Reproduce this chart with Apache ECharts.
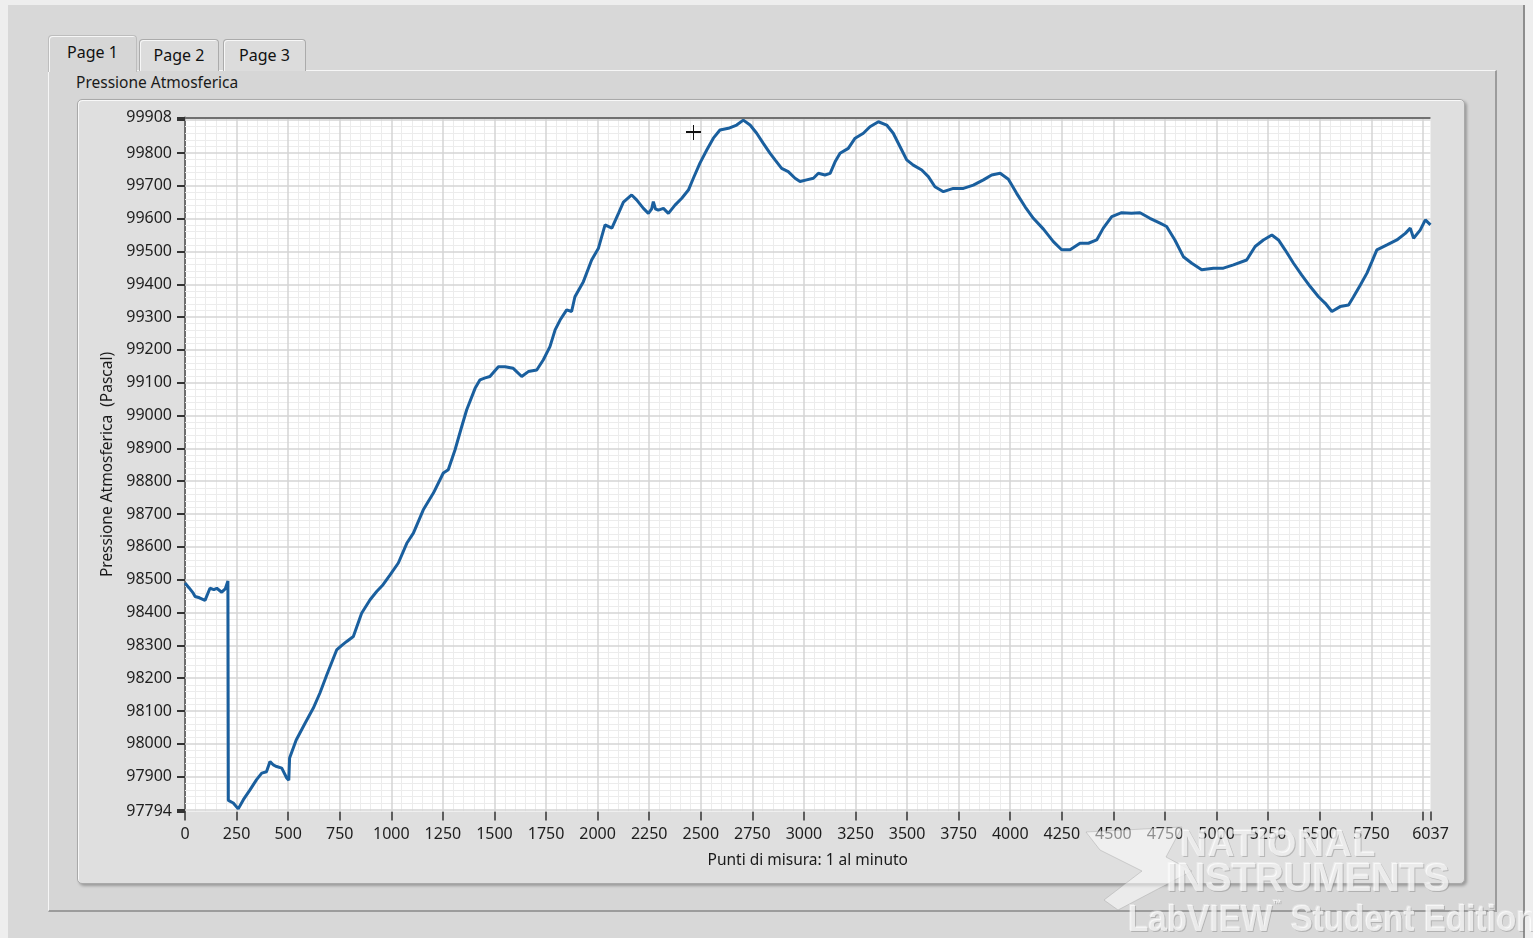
<!DOCTYPE html>
<html>
<head>
<meta charset="utf-8">
<title>Pressione Atmosferica</title>
<script src="https://cdn.jsdelivr.net/npm/echarts@6/dist/echarts.min.js"></script>
<style>
  html, body { margin: 0; padding: 0; }
  body {
    width: 1533px; height: 938px; overflow: hidden; position: relative;
    background: #eeeeee; font-family: "Noto Sans", "Open Sans", sans-serif; color: #111;
  }
  .abs { position: absolute; }
  #panel { left: 8px; top: 5px; width: 1515px; height: 933px; background: #d8d8d8;
           border-right: 2px solid #8e8e8e; }
  #tabBody { left: 48px; top: 70px; width: 1446px; height: 839px; background: #d6d6d6;
             border-top: 1px solid #f6f6f6; border-left: 1px solid #f6f6f6;
             border-right: 2px solid #9c9c9c; border-bottom: 2px solid #9c9c9c; }
  .tab { background: #dcdcdc; border: 1px solid #ababab; border-bottom: none;
         border-radius: 4px 4px 0 0; box-shadow: inset 1px 1px 0 #f7f7f7;
         font-size: 16px; text-align: center; box-sizing: border-box; }
  #tab1 { left: 48px; top: 35px; width: 89px; height: 37px; background: #d6d6d6; line-height: 32px; z-index: 2;
          border-color: #bdbdbd; }
  #tab2 { left: 139px; top: 39px; width: 80px; height: 32px; line-height: 30px; }
  #tab3 { left: 223px; top: 39px; width: 83px; height: 32px; line-height: 30px; }
  #graphLabel { left: 76px; top: 71px; font-size: 15.5px; line-height: 22px; color: #1a1a1a; }
  #graphFrame { left: 77px; top: 99px; width: 1386px; height: 783px; background: #dfdfdf;
                border: 1px solid #a9a9a9; border-radius: 5px;
                box-shadow: inset 1px 1px 0 #f8f8f8, 2px 2px 3px rgba(0,0,0,0.28); }
  #chart { left: 0; top: 0; width: 1533px; height: 938px; z-index: 3; }
  .cross { background: #111; z-index: 4; }
  #watermark { left: 0; top: 0; width: 1533px; height: 938px; z-index: 5; pointer-events: none; overflow: hidden; }
  .wm { position: absolute; font-family: "Liberation Sans", Arial, sans-serif; font-weight: bold;
        color: rgba(255,255,255,0.7); white-space: nowrap; transform-origin: 0 0;
        text-shadow: 1px 1px 0 rgba(110,110,110,0.35), -1px -1px 0 rgba(255,255,255,0.35); }
</style>
</head>
<body>
<div id="panel" class="abs"></div>
<div id="tabBody" class="abs"></div>
<div id="tab1" class="abs tab">Page 1</div>
<div id="tab2" class="abs tab">Page 2</div>
<div id="tab3" class="abs tab">Page 3</div>
<div id="graphLabel" class="abs">Pressione Atmosferica</div>
<div id="graphFrame" class="abs"></div>
<div id="chart" class="abs"></div>
<div class="abs cross" style="left:686px; top:131px; width:15px; height:1.5px;"></div>
<div class="abs cross" style="left:692.5px; top:125px; width:1.5px; height:15px;"></div>
<div id="watermark" class="abs">
  <svg width="1533" height="938" style="position:absolute;left:0;top:0">
    <polygon points="1086,832 1182,827 1166,857 1192,871 1118,910 1104,900 1142,871 1100,850"
             fill="rgba(255,255,255,0.5)" stroke="rgba(150,150,150,0.35)" stroke-width="1"/>
  </svg>
  <div class="wm" style="left:1180px; top:823px; font-size:37px; letter-spacing:1px;">NATIONAL</div>
  <div class="wm" style="left:1166px; top:855px; font-size:40px; letter-spacing:-0.5px;">INSTRUMENTS</div>
  <div class="wm" style="left:1128px; top:898px; font-size:37px; transform: scaleX(0.9);">LabVIEW<span style="font-size:10px;vertical-align:top;">™</span> Student Edition</div>
</div>
<script>
// Minute-by-minute atmospheric pressure readings (sample index, Pa)
const sampleIndex = [
  0, 20, 40, 49, 70, 97, 121, 140, 154, 178, 195, 208, 210, 234, 258, 283, 315, 347, 372, 395,
  412, 430, 444, 469, 493, 503, 507, 539, 582, 622, 654, 687, 735, 760, 784, 816, 856, 897, 929, 960,
  994, 1034, 1075, 1107, 1155, 1204, 1252, 1276, 1309, 1341, 1365, 1406, 1430, 1455, 1478, 1519, 1551, 1591, 1632, 1664,
  1705, 1737, 1769, 1794, 1818, 1850, 1874, 1890, 1931, 1971, 2004, 2036, 2069, 2101, 2125, 2165, 2189, 2222, 2246, 2262,
  2270, 2280, 2294, 2319, 2343, 2375, 2408, 2440, 2464, 2496, 2529, 2561, 2593, 2634, 2674, 2706, 2739, 2771, 2803, 2836,
  2860, 2892, 2924, 2957, 2981, 3013, 3046, 3070, 3102, 3127, 3151, 3175, 3215, 3248, 3288, 3320, 3361, 3401, 3433, 3466,
  3498, 3530, 3571, 3603, 3635, 3676, 3724, 3773, 3821, 3870, 3910, 3951, 3991, 4031, 4072, 4112, 4161, 4209, 4249, 4290,
  4338, 4379, 4419, 4451, 4492, 4540, 4588, 4629, 4677, 4726, 4758, 4798, 4839, 4880, 4928, 4985, 5033, 5082, 5146, 5187,
  5227, 5268, 5300, 5332, 5373, 5413, 5454, 5494, 5527, 5559, 5599, 5640, 5664, 5697, 5729, 5753, 5777, 5826, 5874, 5915,
  5939, 5955, 5987, 6012, 6037
];
const pressurePa = [
  98490, 98475, 98459, 98449, 98445, 98437, 98474, 98470, 98474, 98462, 98472, 98496, 97828, 97820, 97802, 97830, 97860, 97891, 97911, 97915,
  97946, 97935, 97931, 97926, 97896, 97889, 97957, 98012, 98063, 98109, 98155, 98210, 98286, 98300, 98312, 98327, 98398, 98439, 98464, 98485,
  98515, 98551, 98611, 98642, 98713, 98764, 98825, 98835, 98896, 98966, 99017, 99083, 99109, 99115, 99119, 99149, 99149, 99144, 99119, 99134,
  99139, 99170, 99210, 99261, 99291, 99322, 99317, 99362, 99408, 99474, 99510, 99581, 99571, 99616, 99650, 99672, 99657, 99631, 99616, 99630,
  99652, 99630, 99626, 99631, 99616, 99641, 99662, 99687, 99723, 99769, 99809, 99845, 99870, 99875, 99885, 99900, 99885, 99860, 99829, 99799,
  99779, 99753, 99743, 99723, 99713, 99718, 99723, 99738, 99733, 99738, 99773, 99799, 99814, 99845, 99860, 99880, 99895, 99885, 99860, 99819,
  99779, 99763, 99748, 99728, 99697, 99682, 99692, 99692, 99702, 99718, 99733, 99738, 99720, 99677, 99636, 99601, 99568, 99530, 99505, 99505,
  99525, 99525, 99535, 99571, 99606, 99618, 99616, 99618, 99601, 99586, 99576, 99535, 99484, 99464, 99444, 99449, 99449, 99459, 99474, 99515,
  99535, 99550, 99535, 99505, 99464, 99428, 99393, 99362, 99342, 99317, 99332, 99337, 99362, 99398, 99434, 99469, 99505, 99520, 99535, 99555,
  99571, 99540, 99565, 99596, 99581
];

// Axis ranges and tick labels
const xMin = 0, xMax = 6037;
const yMin = 97794, yMax = 99908;
const xLabelValues = [0, 250, 500, 750, 1000, 1250, 1500, 1750, 2000, 2250, 2500, 2750, 3000, 3250,
                      3500, 3750, 4000, 4250, 4500, 4750, 5000, 5250, 5500, 5750, 6037];
const xTickValues = [0, 250, 500, 750, 1000, 1250, 1500, 1750, 2000, 2250, 2500, 2750, 3000, 3250,
                     3500, 3750, 4000, 4250, 4500, 4750, 5000, 5250, 5500, 5750, 6000, 6037];
const yLabelValues = [97794, 97900, 98000, 98100, 98200, 98300, 98400, 98500, 98600, 98700, 98800,
                      98900, 99000, 99100, 99200, 99300, 99400, 99500, 99600, 99700, 99800, 99908];
const yTickValues = [97794, 97800, 97900, 98000, 98100, 98200, 98300, 98400, 98500, 98600, 98700, 98800,
                     98900, 99000, 99100, 99200, 99300, 99400, 99500, 99600, 99700, 99800, 99900, 99908];

const xTitle = 'Punti di misura: 1 al minuto';
const yTitle = 'Pressione Atmosferica  (Pascal)';

const series = sampleIndex.map((x, i) => [x, pressurePa[i]]);

// Graph paper: fine lines every 50 samples / 20 Pa, bold lines every 250 samples / 100 Pa
const minorStyle = { color: '#ececec', width: 1, type: 'solid' };
const majorStyle = { color: '#d5d5d5', width: 1.5, type: 'solid' };
const gridLines = [];
for (let x = 50; x < xMax; x += 50) {
  if (x % 250 !== 0) gridLines.push({ xAxis: x, lineStyle: minorStyle });
}
for (let y = 97800; y < yMax; y += 20) {
  if (y % 100 !== 0) gridLines.push({ yAxis: y, lineStyle: minorStyle });
}
for (let x = 250; x < xMax; x += 250) gridLines.push({ xAxis: x, lineStyle: majorStyle });
for (let y = 97800; y < yMax; y += 100) gridLines.push({ yAxis: y, lineStyle: majorStyle });
gridLines.push({ yAxis: yMax, lineStyle: { color: '#707070', width: 2, type: 'solid' } });

const chart = echarts.init(document.getElementById('chart'), null, { renderer: 'canvas' });
const plainNumber = (v) => String(v);
const labelFont = { color: '#1e1e1e', fontSize: 16, fontFamily: 'Noto Sans', formatter: plainNumber };

chart.setOption({
  animation: false,
  grid: {
    left: 185, top: 117.5, width: 1245.5, height: 694,
    show: true, backgroundColor: '#ffffff', borderWidth: 0
  },
  xAxis: {
    type: 'value', min: xMin, max: xMax,
    name: xTitle, nameLocation: 'middle', nameGap: 41,
    nameTextStyle: { color: '#1a1a1a', fontSize: 15.5, fontFamily: 'Noto Sans' },
    axisLine: { show: false },
    axisTick: { show: true, customValues: xTickValues, length: 9, lineStyle: { color: '#333', width: 1.5 } },
    axisLabel: Object.assign({ customValues: xLabelValues, margin: 15 }, labelFont),
    splitLine: { show: false }
  },
  yAxis: {
    type: 'value', min: yMin, max: yMax,
    name: yTitle, nameLocation: 'middle', nameGap: 65, nameRotate: 90,
    nameTextStyle: { color: '#1a1a1a', fontSize: 15.5, fontFamily: 'Noto Sans' },
    axisLine: { show: true, lineStyle: { color: '#6e6e6e', width: 2 } },
    axisTick: { show: true, customValues: yTickValues, length: 8, lineStyle: { color: '#333', width: 2 } },
    axisLabel: Object.assign({ customValues: yLabelValues, margin: 13 }, labelFont),
    splitLine: { show: false }
  },
  series: [
    {
      type: 'line', data: [], z: 1, silent: true,
      markLine: { z: 1, silent: true, symbol: ['none', 'none'], label: { show: false },
                  animation: false, data: gridLines }
    },
    {
      type: 'line', data: series, z: 10, showSymbol: false, smooth: false,
      lineStyle: { color: '#1a5f9e', width: 3 }
    }
  ]
});
</script>
</body>
</html>
